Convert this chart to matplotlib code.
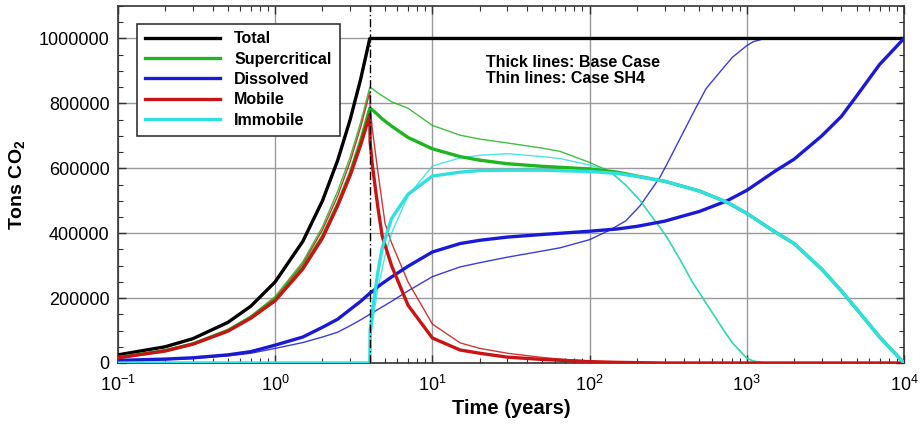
import matplotlib
matplotlib.use("Agg")
import matplotlib.pyplot as plt
from matplotlib.ticker import FixedLocator, FuncFormatter, LogLocator, MultipleLocator

plt.rcParams['font.family'] = ['Liberation Sans', 'DejaVu Sans']
plt.rcParams['mathtext.fontset'] = 'custom'
plt.rcParams['mathtext.rm'] = 'Liberation Sans'
plt.rcParams['mathtext.bf'] = 'Liberation Sans:bold'

# ---- Base case (thick lines) ----
t_base = [0.1, 0.2, 0.3, 0.5, 0.7, 1, 1.5, 2, 2.5, 3, 3.5, 4, 4.02, 4.15, 4.5, 4.8,
          5.5, 7, 10, 15, 20, 30, 50, 100, 150, 200, 300, 500, 750, 1000, 1500,
          2000, 3000, 4000, 5000, 7000, 10000]
total_base = [25000, 50000, 75000, 125000, 175000, 250000, 375000, 500000, 625000,
              750000, 875000, 1000000, 1000000, 1000000, 1000000, 1000000, 1000000,
              1000000, 1000000, 1000000, 1000000, 1000000, 1000000, 1000000, 1000000,
              1000000, 1000000, 1000000, 1000000, 1000000, 1000000, 1000000, 1000000,
              1000000, 1000000, 1000000, 1000000]
supercrit_base = [17000, 38000, 59000, 100000, 140000, 195000, 295000, 390000, 490000,
                  585000, 685000, 785000, 784000, 780000, 765000, 752000, 730000,
                  695000, 660000, 636000, 625000, 614000, 606000, 598000, 588000,
                  576000, 560000, 530000, 495000, 461000, 405000, 368000, 289000,
                  222000, 166000, 80000, 0]
dissolved_base = [8000, 12000, 16000, 25000, 35000, 55000, 80000, 110000, 135000,
                  165000, 190000, 215000, 216000, 220000, 235000, 245000, 265000,
                  298000, 342000, 368000, 378000, 388000, 396000, 406000, 413000,
                  421000, 437000, 467000, 500000, 532000, 590000, 628000, 700000,
                  760000, 823000, 920000, 1000000]
mobile_base = [16000, 37000, 58000, 98000, 138000, 192000, 290000, 385000, 485000,
               578000, 672000, 765000, 680000, 610000, 480000, 390000, 300000,
               178000, 77000, 40000, 30000, 18000, 11000, 4000, 2000, 1000, 0,
               0, 0, 0, 0, 0, 0, 0, 0, 0, 0]
immobile_base = [0, 0, 0, 0, 0, 0, 0, 0, 0, 0, 0, 0, 100000, 160000, 280000, 355000,
                 445000, 520000, 576000, 588000, 593000, 594000, 594000, 590000,
                 584000, 575000, 560000, 530000, 495000, 461000, 405000, 368000,
                 289000, 222000, 166000, 80000, 0]

# ---- Case SH4 (thin lines) ----
t_sh4 = [0.1, 0.2, 0.3, 0.5, 0.7, 1, 1.5, 2, 2.5, 3, 3.5, 4, 4.02, 4.15, 4.5, 5,
         5.5, 7, 10, 15, 20, 30, 50, 65, 100, 135, 170, 210, 280, 310, 375, 450,
         550, 700, 810, 1000, 1100, 1300]
total_sh4 = [25000, 50000, 75000, 125000, 175000, 250000, 375000, 500000, 625000,
             750000, 875000, 1000000, 1000000, 1000000, 1000000, 1000000, 1000000,
             1000000, 1000000, 1000000, 1000000, 1000000, 1000000, 1000000, 1000000,
             1000000, 1000000, 1000000, 1000000, 1000000, 1000000, 1000000, 1000000,
             1000000, 1000000, 1000000, 1000000, 1000000]
supercrit_sh4 = [19000, 40000, 61000, 103000, 145000, 205000, 312000, 420000, 530000,
                 635000, 742000, 850000, 849000, 845000, 832000, 818000, 805000,
                 785000, 732000, 702000, 690000, 678000, 662000, 652000, 618000,
                 590000, 548000, 500000, 418000, 388000, 320000, 250000, 185000,
                 107000, 62000, 15000, 6000, 0]
dissolved_sh4 = [6000, 10000, 14000, 22000, 30000, 45000, 63000, 80000, 95000,
                 115000, 133000, 150000, 151000, 154000, 165000, 178000, 190000,
                 222000, 266000, 296000, 309000, 326000, 345000, 355000, 380000,
                 410000, 438000, 485000, 572000, 612000, 690000, 765000, 845000,
                 906000, 942000, 978000, 990000, 1000000]
mobile_sh4 = [18000, 39000, 60000, 101000, 143000, 200000, 305000, 410000, 515000,
              620000, 727000, 834000, 790000, 720000, 590000, 430000, 370000,
              250000, 120000, 62000, 45000, 30000, 17000, 12000, 6000, 3000, 2000,
              1000, 0, 0, 0, 0, 0, 0, 0, 0, 0, 0]
immobile_sh4 = [0, 0, 0, 0, 0, 0, 0, 0, 0, 0, 0, 0, 60000, 120000, 230000, 330000,
                400000, 515000, 607000, 632000, 640000, 645000, 636000, 630000,
                610000, 590000, 548000, 500000, 418000, 388000, 320000, 250000,
                185000, 107000, 62000, 15000, 6000, 0]

labels = ["Total", "Supercritical", "Dissolved", "Mobile", "Immobile"]
colors = ["#000000", "#1fb51f", "#1a1ad6", "#c81414", "#30e0e0"]
base_series = [total_base, supercrit_base, dissolved_base, mobile_base, immobile_base]
sh4_series = [total_sh4, supercrit_sh4, dissolved_sh4, mobile_sh4, immobile_sh4]
injection_end = 4.0

fig = plt.figure(figsize=(9.23, 4.24), dpi=100)
ax = fig.add_axes([0.1278, 0.1439, 0.8516, 0.8419])

handles = []
for lab, col, yb, ys in zip(labels, colors, base_series, sh4_series):
    ax.plot(t_sh4, ys, color=col, lw=1.0, alpha=0.85, zorder=3)
    h, = ax.plot(t_base, yb, color=col, lw=2.4, label=lab, zorder=4)
    handles.append(h)

ax.axvline(injection_end, color="black", lw=1.0, ls=(0, (6, 2, 1, 2)), zorder=5)

ax.set_xscale("log")
ax.set_xlim(0.1, 10000)
ax.set_ylim(0, 1100000)

ax.xaxis.set_major_locator(LogLocator(base=10, numticks=10))
ax.xaxis.set_minor_locator(LogLocator(base=10, subs=range(2, 10), numticks=50))
ax.yaxis.set_major_locator(FixedLocator([0, 200000, 400000, 600000, 800000, 1000000]))
ax.yaxis.set_minor_locator(MultipleLocator(50000))
ax.yaxis.set_major_formatter(FuncFormatter(lambda v, p: f"{int(round(v))}"))

ax.grid(True, which="major", color="#9a9a9a", lw=1.0, zorder=0)
ax.set_axisbelow(True)

ax.tick_params(which="both", direction="in", top=True, right=True, labelsize=13,
               colors="#333333", labelcolor="black")
ax.tick_params(which="major", length=6, width=1.0)
ax.tick_params(which="minor", length=3.5, width=0.8)
ax.tick_params(axis="x", pad=8.5)
ax.tick_params(axis="y", pad=6)
for sp in ax.spines.values():
    sp.set_color("#333333")
    sp.set_linewidth(1.2)

ax.set_xlabel("Time (years)", fontsize=14.5, fontweight="bold", labelpad=3)
ax.set_ylabel(r"Tons CO$_\mathbf{2}$", fontsize=14, fontweight="bold", labelpad=8)

leg = ax.legend(handles=handles, loc="upper left", bbox_to_anchor=(0.024, 0.951),
                borderaxespad=0, fancybox=False, framealpha=1, edgecolor="#333333",
                handlelength=4.7, handletextpad=0.9, labelspacing=0.33, borderpad=0.5,
                prop={"weight": "bold", "size": 11.5})
leg.get_frame().set_linewidth(1.2)
leg.set_zorder(6)

ax.text(0.468, 0.862, "Thick lines: Base Case\nThin lines: Case SH4",
        transform=ax.transAxes, fontsize=11.5, fontweight="bold", va="top",
        ha="left", linespacing=1.05, zorder=6)

fig.savefig("out.png", dpi=100)
